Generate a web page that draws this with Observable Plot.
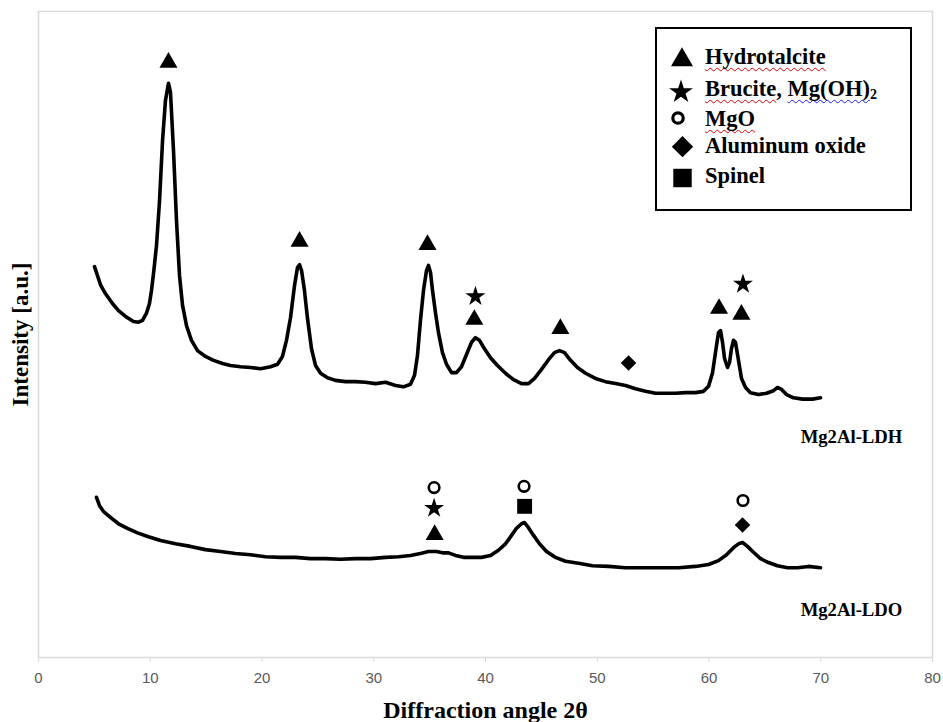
<!DOCTYPE html>
<html><head><meta charset="utf-8">
<script src="https://cdn.jsdelivr.net/npm/d3@7"></script>
<script src="https://cdn.jsdelivr.net/npm/@observablehq/plot@0.6"></script>
<style>
html,body{margin:0;padding:0;background:#fff;}
#wrap{position:relative;width:943px;height:722px;overflow:hidden;}
#legend{position:absolute;left:655px;top:27px;width:257px;height:184px;border:2px solid #000;box-sizing:border-box;background:#fff;
  font-family:"Liberation Serif","Times New Roman",serif;font-weight:bold;font-size:22.5px;color:#000;}
#legend .t{position:absolute;left:48px;line-height:22px;white-space:nowrap;}
#legend svg{position:absolute;left:0;top:0;overflow:visible;}
.wr{text-decoration:underline wavy #e00000;text-decoration-thickness:1px;text-underline-offset:3px;text-decoration-skip-ink:none;}
.wb{text-decoration:underline wavy #1a1aff;text-decoration-thickness:1px;text-underline-offset:3px;text-decoration-skip-ink:none;}
sub{font-size:14px;vertical-align:-3px;line-height:0;}
</style></head>
<body><div id="wrap"></div>
<script>
// X-ray diffraction patterns: [2θ (deg), intensity (a.u.)]
const ldhPattern = [[5.01,60.5],[5.55,57.7],[6.0,56.3],[6.62,54.8],[7.16,53.7],[7.79,52.8],[8.5,52.0],[8.95,51.9],[9.31,52.2],[9.66,53.3],[9.93,54.8],[10.11,56.8],[10.29,59.4],[10.56,63.8],[10.83,70.7],[11.1,80.0],[11.36,86.2],[11.63,88.9],[11.81,87.5],[12.08,78.5],[12.35,67.6],[12.62,59.1],[12.89,54.5],[13.24,51.4],[13.69,49.1],[14.23,47.5],[14.94,46.6],[15.66,46.0],[16.47,45.5],[17.18,45.2],[18.08,45.0],[18.97,44.9],[19.87,44.7],[20.76,45.0],[21.39,45.4],[21.83,46.6],[22.19,49.1],[22.55,52.6],[22.91,57.6],[23.18,60.4],[23.36,60.8],[23.54,59.9],[23.8,56.8],[24.07,52.5],[24.43,47.8],[24.79,45.2],[25.24,44.0],[25.86,43.3],[26.58,42.9],[27.47,42.7],[28.37,42.7],[29.26,42.6],[30.16,42.4],[31.05,42.6],[31.95,42.1],[32.66,41.9],[33.29,42.3],[33.65,43.7],[33.91,46.7],[34.18,52.2],[34.45,56.8],[34.72,59.9],[34.9,60.7],[35.08,59.6],[35.26,56.8],[35.53,53.3],[35.8,50.2],[36.15,47.2],[36.51,45.4],[36.96,44.1],[37.4,44.1],[37.85,45.0],[38.3,46.9],[38.75,48.8],[39.1,49.5],[39.46,49.1],[39.91,47.8],[40.45,46.4],[41.07,45.2],[41.79,44.0],[42.51,43.0],[43.22,42.4],[43.85,42.4],[44.39,43.2],[45.01,44.6],[45.64,46.1],[46.17,47.2],[46.62,47.5],[47.07,47.2],[47.61,46.0],[48.23,44.9],[48.95,44.0],[49.84,43.2],[50.74,42.7],[51.63,42.4],[52.53,42.1],[53.42,41.6],[54.32,41.2],[55.21,40.9],[56.11,40.9],[57.0,40.9],[57.9,41.0],[58.79,41.0],[59.51,41.2],[59.96,42.0],[60.32,44.1],[60.58,47.2],[60.85,50.3],[61.03,50.6],[61.21,48.8],[61.39,46.3],[61.66,44.9],[61.84,45.7],[62.01,47.8],[62.19,49.1],[62.37,48.8],[62.64,46.0],[62.91,43.2],[63.27,41.8],[63.71,41.0],[64.43,40.7],[65.15,40.9],[65.77,41.3],[66.13,41.8],[66.49,41.5],[66.94,40.7],[67.56,40.2],[68.37,40.0],[69.26,40.0],[69.98,40.2]];

const ldoPattern = [[5.19,24.8],[5.46,23.5],[5.82,22.6],[6.44,21.7],[7.16,20.7],[7.96,20.0],[8.86,19.3],[9.84,18.7],[10.92,18.1],[12.26,17.6],[13.6,17.2],[14.94,16.7],[16.29,16.4],[17.63,16.1],[18.97,15.9],[20.31,15.6],[21.66,15.5],[23.0,15.5],[24.34,15.3],[25.68,15.3],[27.02,15.2],[28.37,15.3],[29.71,15.3],[31.05,15.5],[32.21,15.6],[33.29,15.8],[34.18,16.1],[34.9,16.4],[35.62,16.4],[36.15,16.2],[36.69,16.2],[37.32,15.8],[38.03,15.5],[38.84,15.5],[39.64,15.5],[40.45,15.8],[41.16,16.6],[41.79,17.6],[42.33,18.9],[42.77,20.0],[43.22,20.7],[43.49,20.9],[43.85,20.1],[44.3,18.9],[44.83,17.6],[45.46,16.4],[46.26,15.5],[47.16,14.9],[48.32,14.6],[49.57,14.2],[51.01,14.1],[52.53,13.9],[54.05,13.9],[55.66,13.9],[57.27,13.9],[58.79,14.1],[59.96,14.4],[60.85,15.0],[61.57,15.9],[62.19,17.0],[62.64,17.6],[63.0,17.8],[63.44,17.2],[63.98,16.3],[64.61,15.3],[65.32,14.7],[66.13,14.2],[67.02,13.9],[67.92,13.9],[68.9,14.1],[69.98,13.9]];

// Phase markers: [2θ, marker height]
const hydrotalcitePeaks = [[11.63,92.1],[23.36,64.4],[34.81,63.9],[39.0,52.3],[46.7,50.9],[60.9,54.0],[62.9,53.1],[35.45,19.0]];
const brucitePeaks = [[39.1,55.9],[63.04,57.8],[35.4,23.1]];
const mgoPeaks = [[35.4,26.3],[43.45,26.5],[63.04,24.3]];
const aluminaPeaks = [[52.8,45.6],[63.0,20.5]];
const spinelPeaks = [[43.5,23.4]];

const sampleNames = ["Mg2Al-LDH", "Mg2Al-LDO"];
const sampleLabelAngle = [68.2, 68.2];
const sampleLabelIntensity = [34.1, 7.3];

const xTicks = [0,10,20,30,40,50,60,70,80];
const xTitle = "Diffraction angle 2θ";
const yTitle = "Intensity [a.u.]";

const legendItems = ["Hydrotalcite", "Brucite, Mg(OH)2", "MgO", "Aluminum oxide", "Spinel"];

const serif = '"Liberation Serif","Times New Roman",serif';
const labels = sampleNames.map((n,i)=>({name:n, x:sampleLabelAngle[i], y:sampleLabelIntensity[i]}));

const chart = Plot.plot({
  width: 943, height: 722,
  marginLeft: 38, marginRight: 11, marginTop: 11, marginBottom: 65,
  style: {background: "#fff", overflow: "visible"},
  x: {domain: [0, 80]},
  y: {domain: [0, 100], axis: null},
  marks: [
    Plot.frame({stroke: "#d9d9d9", strokeWidth: 1.5}),
    Plot.axisX({ticks: xTicks, tickSize: 5, tickPadding: 10, stroke: "#d9d9d9", fill: "#595959",
      fontSize: 15, fontFamily: '"Liberation Sans Narrow","Liberation Sans",sans-serif', label: null, tickFormat: d => String(d)}),
    Plot.line(ldhPattern, {x: d => d[0], y: d => d[1], stroke: "#000", strokeWidth: 3.6, strokeLinejoin: "round"}),
    Plot.line(ldoPattern, {x: d => d[0], y: d => d[1], stroke: "#000", strokeWidth: 3.6, strokeLinejoin: "round"}),
    Plot.dot(hydrotalcitePeaks, {x: d => d[0], y: d => d[1], symbol: "triangle", r: 6.7, fill: "#000"}),
    Plot.dot(brucitePeaks, {x: d => d[0], y: d => d[1], symbol: "star", r: 6.3, fill: "#000"}),
    Plot.dot(mgoPeaks, {x: d => d[0], y: d => d[1], symbol: "circle", r: 5.3, fill: "#fff", stroke: "#000", strokeWidth: 2.6}),
    Plot.dot(aluminaPeaks, {x: d => d[0], y: d => d[1], symbol: "diamond2", r: 7.0, fill: "#000"}),
    Plot.dot(spinelPeaks, {x: d => d[0], y: d => d[1], symbol: "square", r: 8.4, fill: "#000"}),
    Plot.text(labels, {x: "x", y: "y", text: "name", textAnchor: "start", fontFamily: serif, fontWeight: "bold", fontSize: 18.7, fill: "#000"}),
    Plot.text([xTitle], {frameAnchor: "bottom", dy: 53, textAnchor: "middle", lineAnchor: "middle", fontFamily: serif, fontWeight: "bold", fontSize: 24, fill: "#000"}),
    Plot.text([yTitle], {frameAnchor: "left", dx: -18, rotate: -90, textAnchor: "middle", lineAnchor: "middle", fontFamily: serif, fontWeight: "bold", fontSize: 23, fill: "#000"})
  ]
});
const wrap = document.getElementById("wrap");
wrap.appendChild(chart);

// Legend (HTML overlay, inside the bordered box)
const legend = document.createElement("div");
legend.id = "legend";
wrap.appendChild(legend);
const ns = "http://www.w3.org/2000/svg";
const symSvg = document.createElementNS(ns, "svg");
symSvg.setAttribute("width", 253); symSvg.setAttribute("height", 180);
legend.appendChild(symSvg);
const legendSymbols = [
  {type: d3.symbolTriangle, size: 209, cx: 25, cy: 31, fill: "#000"},
  {type: d3.symbolStar, size: 175, cx: 24, cy: 63, fill: "#000"},
  {type: d3.symbolCircle, size: 85, cx: 21, cy: 89, fill: "#fff", stroke: "#000", sw: 3.2},
  {type: d3.symbolDiamond2, size: 290, cx: 25.5, cy: 117.7, fill: "#000"},
  {type: d3.symbolSquare, size: 340, cx: 25.5, cy: 149, fill: "#000"}
];
legendSymbols.forEach(s => {
  const p = document.createElementNS(ns, "path");
  p.setAttribute("d", d3.symbol(s.type, s.size)());
  p.setAttribute("transform", `translate(${s.cx},${s.cy})`);
  p.setAttribute("fill", s.fill);
  if (s.stroke) { p.setAttribute("stroke", s.stroke); p.setAttribute("stroke-width", s.sw); }
  symSvg.appendChild(p);
});
const legendTops = [17, 49.3, 79.3, 105.9, 135.6];
const legendHtml = [
  `<span class="wr">${legendItems[0]}</span>`,
  `<span class="wr">Brucite</span>, <span class="wb">Mg(OH)</span><sub>2</sub>`,
  `<span class="wr">${legendItems[2]}</span>`,
  legendItems[3],
  legendItems[4]
];
legendHtml.forEach((h, i) => {
  const t = document.createElement("div");
  t.className = "t";
  t.style.top = legendTops[i] + "px";
  t.innerHTML = h;
  legend.appendChild(t);
});
</script>
</body></html>
